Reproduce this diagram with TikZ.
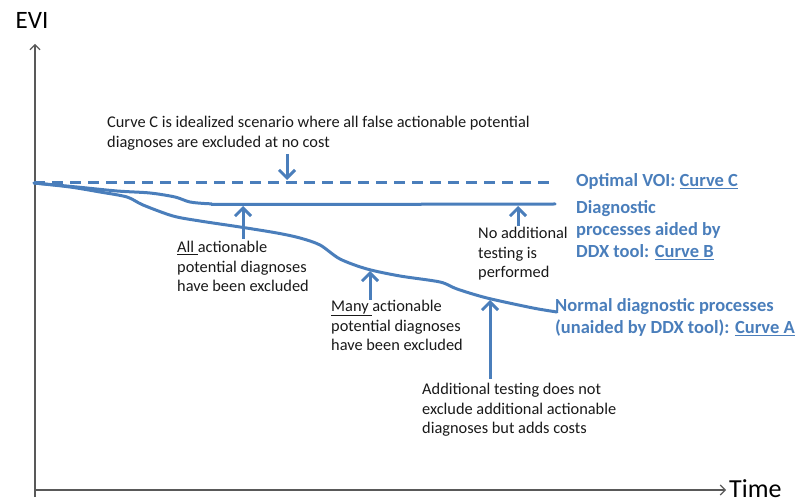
\documentclass[tikz,border=0pt]{standalone}
\usepackage{fontspec}
\setmainfont{Carlito}
\usetikzlibrary{arrows.meta}
\definecolor{cblue}{HTML}{4A7EBB}
\begin{document}
\begin{tikzpicture}[x=1pt,y=-1pt,
  axis/.style={line width=1.3pt, draw=black!65, -{Straight Barb[length=5pt,width=10pt,line width=1.1pt]}},
  curve/.style={draw=cblue, line width=3pt, line join=round, line cap=round},
  callout/.style={draw=cblue, line width=3pt, -{Straight Barb[length=8pt,width=16pt,line width=3pt]}},
  note/.style={font=\fontsize{16.35}{19.6}\selectfont, align=left, anchor=north west, inner sep=0pt, text=black!90},
  lbl/.style={font=\fontsize{18.5}{22}\selectfont\bfseries, align=left, anchor=north west, inner sep=0pt, text=cblue}]
\useasboundingbox (0,0) rectangle (798,502);
% axes
\coordinate (O) at (35,490);
\coordinate (ytop) at (35,44);
\coordinate (xend) at (726,490);
\coordinate (ybot) at (35,497);
\draw[axis] (ybot) -- (ytop);
\draw[axis] (O) -- (xend);
\node[font=\fontsize{25}{28}\selectfont, anchor=center] (evi) at (32,20) {EVI};
\node[font=\fontsize{26}{28}\selectfont, anchor=base west, inner sep=0pt] (time) at (729,497) {Time};
% curves
\draw[curve, dash pattern=on 10.5pt off 7.5pt, line cap=butt] (34,183) -- (555,183);
\draw[curve] plot[smooth, tension=0.5] coordinates {(34,183) (77,187) (117,191) (150,193) (175,197) (190,202) (210,203.8) (243,204.5) (555,204)};
\draw[curve] plot[smooth, tension=0.5] coordinates {(34,183) (70,187) (100,192) (127,197) (143,205) (173,216) (200,221) (240,227) (277,233) (300,238) (320,245) (340,259) (367,269) (400,276) (440,282) (457,289) (487,298) (533,308) (557,312)};
% arrow coordinates
\coordinate (cT) at (287,154); \coordinate (cH) at (287,180);
\coordinate (allT) at (243,239); \coordinate (allH) at (243,206);
\coordinate (noT) at (518,226); \coordinate (noH) at (518,206);
\coordinate (manyT) at (370,300); \coordinate (manyH) at (370,271);
\coordinate (addT) at (490,379); \coordinate (addH) at (490,300);
\draw[callout] (cT) -- (cH);
\draw[callout] (allT) -- (allH);
\draw[callout] (noT) -- (noH);
\draw[callout] (manyT) -- (manyH);
\draw[callout] (addT) -- (addH);
% notes
\node[note] (cnote) at (107,116) {Curve C is idealized scenario where all false actionable potential\\diagnoses are excluded at no cost};
\node[note] (allnote) at (177,241) {\underline{All\ }actionable\\potential diagnoses\\have been excluded};
\node[note] (nonote) at (478,227) {No additional\\testing is\\performed};
\node[note] (manynote) at (331,300) {\underline{Many\ }actionable\\potential diagnoses\\have been excluded};
\node[note] (addnote) at (422,383) {Additional testing does not\\exclude additional actionable\\diagnoses but adds costs};
% labels
\node[lbl] (lc) at (576,173) {Optimal VOI: \underline{Curve C}};
\node[lbl] (lb) at (576,200) {Diagnostic\\processes aided by\\DDX tool: \underline{Curve B}};
\node[lbl] (la) at (555,298) {Normal diagnostic processes\\(unaided by DDX tool): \underline{Curve A}};
\end{tikzpicture}
\end{document}
